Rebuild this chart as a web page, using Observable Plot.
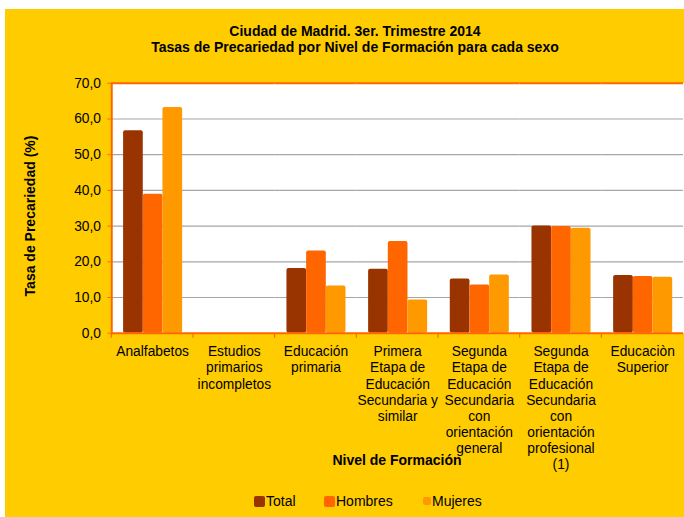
<!DOCTYPE html>
<html>
<head>
<meta charset="utf-8">
<script src="https://cdn.jsdelivr.net/npm/d3@7"></script>
<script src="https://cdn.jsdelivr.net/npm/@observablehq/plot@0.6"></script>
<style>
  html, body { margin: 0; padding: 0; background: #fff; overflow: hidden; width: 684px; height: 517px; }
  #bg { position: absolute; left: 5px; top: 9px; width: 700px; height: 520px; background: #FFCC00; }
  .t { position: absolute; font-family: "Liberation Sans", Arial, sans-serif; color: #000; }
  #title { left: 5px; width: 700px; top: 23px; text-align: center; font-weight: bold; font-size: 14px; line-height: 16px; }
  #title div { width: 700px; text-align: center; }
  #ylab { left: 30px; top: 216px; font-weight: bold; font-size: 14px; transform: translate(-50%, -50%) rotate(-90deg); white-space: nowrap; }
  #xlab { left: 397px; top: 460px; font-weight: bold; font-size: 14px; transform: translate(-50%, -50%); white-space: nowrap; }
  #chart { position: absolute; left: 5px; top: 70px; }
  .leg { position: absolute; top: 501px; transform: translateY(-50%); font-family: "Liberation Sans", Arial, sans-serif; font-size: 14px; display: flex; align-items: center; line-height: 16px; }
  .sw { display: inline-block; border-radius: 2px; margin-right: 1px; }
</style>
</head>
<body>
<div id="bg"></div>
<div id="title" class="t"></div>
<div id="ylab" class="t"></div>
<div id="chart"></div>
<div id="xlab" class="t"></div>
<div id="legend"></div>
<script>
const titleLines = ["Ciudad de Madrid. 3er. Trimestre 2014", "Tasas de Precariedad por Nivel de Formación para cada sexo"];
const yTitle = "Tasa de Precariedad (%)";
const xTitle = "Nivel de Formación";
const categories = [
  "Analfabetos",
  "Estudios primarios incompletos",
  "Educación primaria",
  "Primera Etapa de Educación Secundaria y similar",
  "Segunda Etapa de Educación Secundaria con orientación general",
  "Segunda Etapa de Educación Secundaria con orientación profesional (1)",
  "Educaciòn Superior"
];
const categoryLabels = [
  "Analfabetos",
  "Estudios\nprimarios\nincompletos",
  "Educación\nprimaria",
  "Primera\nEtapa de\nEducación\nSecundaria y\nsimilar",
  "Segunda\nEtapa de\nEducación\nSecundaria\ncon\norientación\ngeneral",
  "Segunda\nEtapa de\nEducación\nSecundaria\ncon\norientación\nprofesional\n(1)",
  "Educaciòn\nSuperior"
];
const series = ["Total", "Hombres", "Mujeres"];
const seriesColors = ["#993300", "#FF6600", "#FF9900"];
const total   = [56.7, 0, 18.1, 17.9, 15.2, 30.0, 16.2];
const hombres = [38.9, 0, 23.0, 25.7, 13.5, 29.9, 15.9];
const mujeres = [63.2, 0, 13.2,  9.3, 16.3, 29.4, 15.7];
const yTicks = [0, 10, 20, 30, 40, 50, 60, 70];

const values = [total, hombres, mujeres];
const data = [];
categories.forEach((c, i) => series.forEach((s, j) => data.push({cat: c, series: s, value: values[j][i]})));

document.getElementById("title").innerHTML = titleLines.map(t => `<div>${t}</div>`).join("");
document.getElementById("ylab").textContent = yTitle;
document.getElementById("xlab").textContent = xTitle;

const orange = "#FF6600";
const fmt = d => d.toFixed(1).replace(".", ",");

const chart = Plot.plot({
  width: 690,
  height: 415,
  marginLeft: 106,
  marginRight: 0,
  marginTop: 13,
  marginBottom: 148,
  style: { background: "transparent", fontFamily: "'Liberation Sans', Arial, sans-serif", fontSize: "14px", color: "#000", overflow: "visible" },
  fx: { domain: categories, padding: 0, axis: null, label: null },
  x: { domain: series, paddingInner: 0, paddingOuter: 0.5, axis: null },
  y: { domain: [0, 70], axis: null },
  color: { domain: series, range: seriesColors },
  marks: [
    Plot.frame({ fill: "white", stroke: null, shapeRendering: "crispEdges" }),
    Plot.ruleY(yTicks.filter(d => d > 0 && d < 70), { y: d => d, stroke: "#a6a6a6", strokeWidth: 1.2 }),
    Plot.barY(data, { fx: "cat", x: "series", y: "value", fill: "series", rx: 2 }),
    Plot.ruleY([0], { stroke: orange, strokeWidth: 2 }),
    Plot.ruleY([70], { stroke: orange, strokeWidth: 2 }),
    Plot.frame({ anchor: "left", stroke: orange, strokeWidth: 2, facetAnchor: "left" }),
    Plot.axisY({ ticks: yTicks, tickSize: 4, tickPadding: 7, stroke: orange, fill: "#000", tickFormat: fmt, label: null, fontSize: 14 }),
    (index, scales, vals, dims) => {
      const g = d3.create("svg:g");
      const y0 = scales.y(0);
      g.append("line")
        .attr("x1", dims.marginLeft).attr("x2", dims.marginLeft)
        .attr("y1", y0).attr("y2", y0 + 5)
        .attr("stroke", orange).attr("stroke-width", 1.2);
      return g.node();
    },
    Plot.text(categories, { fx: d => d, text: (d, i) => categoryLabels[i], frameAnchor: "bottom", lineAnchor: "top", dy: 12, lineHeight: 1.165, fontSize: 14, fill: "#000" })
  ]
});
document.getElementById("chart").appendChild(chart);

const legendPos = [254, 324, 423];
const swSize = [[11, 11], [11, 11], [8, 8]];
const legend = document.getElementById("legend");
series.forEach((s, j) => {
  const item = document.createElement("div");
  item.className = "leg";
  item.style.left = legendPos[j] + "px";
  const sw = document.createElement("span");
  sw.className = "sw";
  sw.style.width = swSize[j][0] + "px";
  sw.style.height = swSize[j][1] + "px";
  sw.style.background = seriesColors[j];
  item.appendChild(sw);
  const tx = document.createElement("span");
  tx.textContent = s;
  item.appendChild(tx);
  legend.appendChild(item);
});
</script>
</body>
</html>
